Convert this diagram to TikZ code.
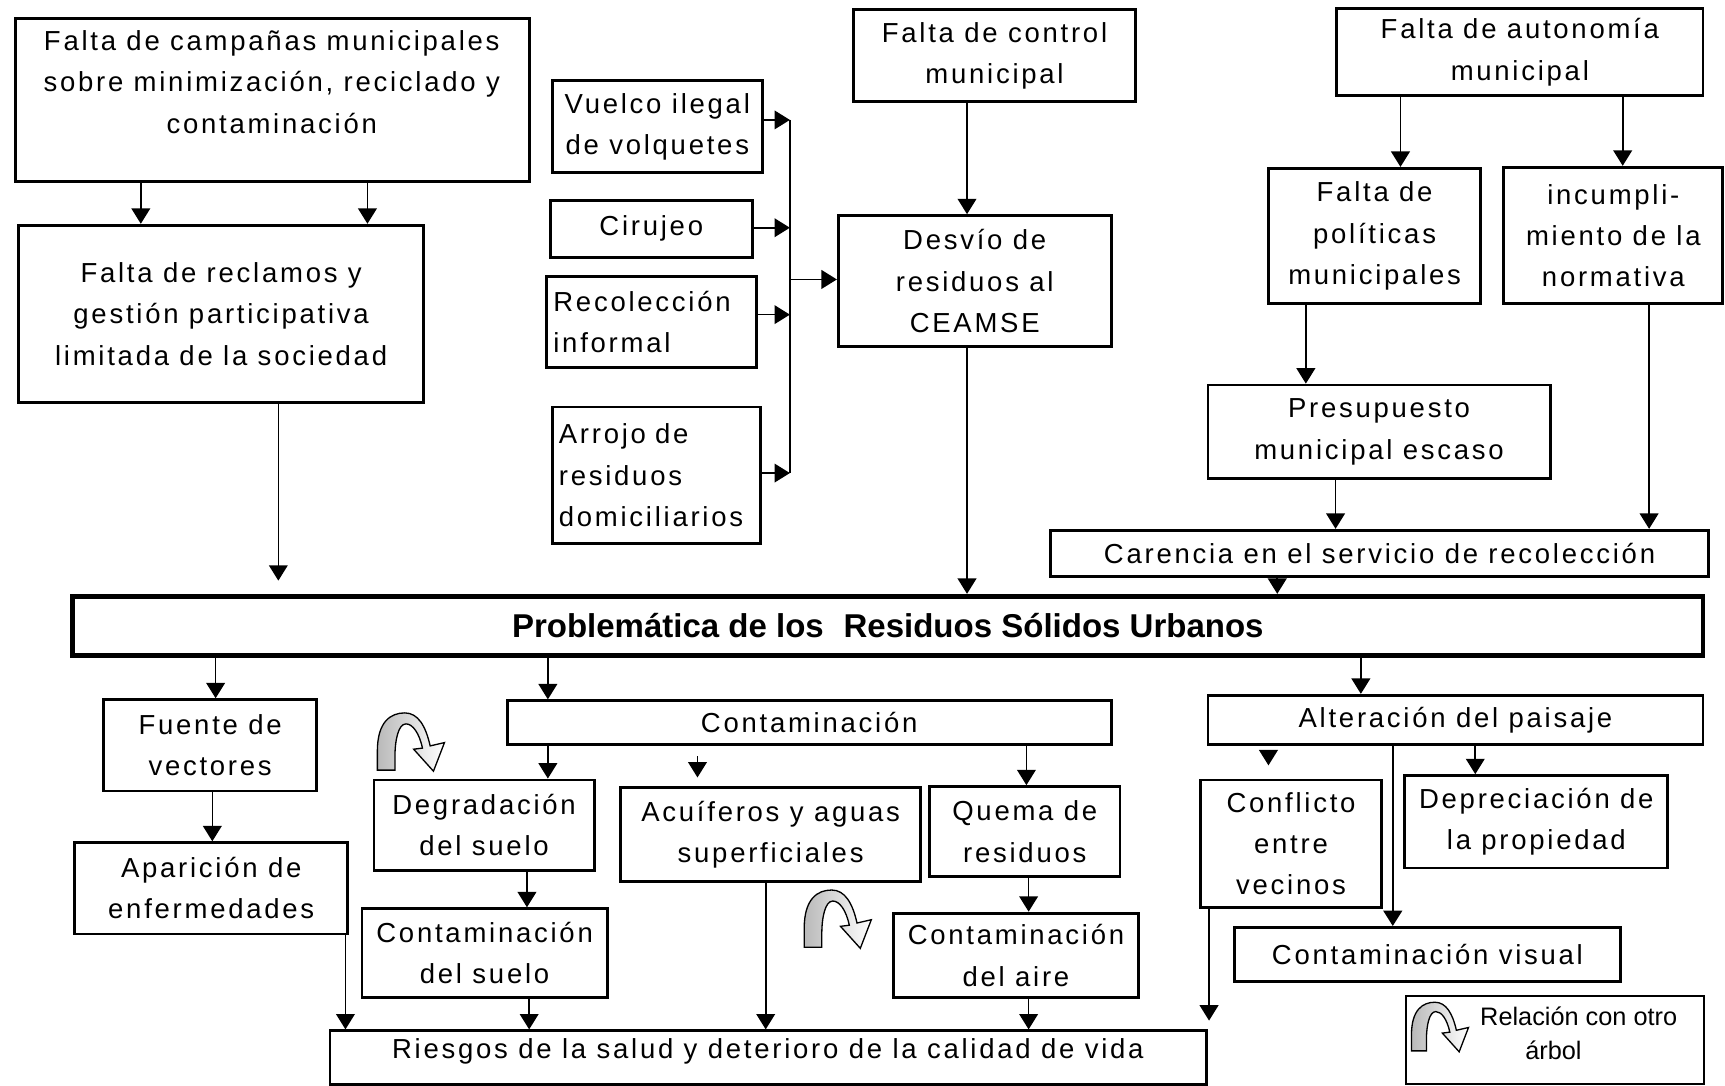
\documentclass[tikz,border=0pt]{standalone}
\usepackage{fontspec}
\setmainfont{Liberation Sans}[LetterSpace=10]
\newfontfamily\legfont{Liberation Sans}
\newfontfamily\titfont{Liberation Sans}
\usetikzlibrary{arrows.meta,calc}
\newcommand\bx[6][]{\node[box,minimum width={(#5-#3)*0.5pt},minimum height={(#6-#4)*0.5pt},#1] (#2) at ({(#3+#5)/2},{(#4+#6)/2})}
\tikzset{
  box/.style={draw, line width=1.3pt, inner sep=1pt, align=center, font=\fontsize{12.5}{18.75}\selectfont},
  txt/.style={inner sep=0pt, align=center, font=\fontsize{12.5}{18.75}\selectfont},
  arr/.style={line width=0.75pt, -{Triangle[length=7pt,width=8.5pt]}},
  ln/.style={line width=0.75pt},
  leftbox/.style={align=left, text width={(#1-12)*0.5pt}, inner xsep=3pt},
  rel/.pic={
    \path[draw=black, line width=0.6pt, left color=gray!55, right color=white]
      (0,52) -- (0,35) .. controls (0,8) and (12,0) .. (25,0)
      .. controls (37,0) and (44,12) .. (48,30) -- (61,27) -- (51,53) -- (33,33) -- (41,32)
      .. controls (38,18) and (32,10) .. (26,10)
      .. controls (19,10) and (16,25) .. (16,40) -- (16,52) -- cycle;
  }
}
\begin{document}
\begin{tikzpicture}[x=0.5pt,y=-0.5pt]
\useasboundingbox (0,0) rectangle (1568,987);
\fill[white] (0,0) rectangle (1568,987);

% top left
\bx{b1}{14}{17}{481}{165}{};
\node[txt] (b1t) at (247,74.5) {Falta de campañas municipales\\sobre minimización, reciclado y\\contaminación};
\bx[line width=1.6pt]{b2}{17}{205}{385}{366}{Falta de reclamos y\\gestión participativa\\limitada de la sociedad};

% middle sources
\bx{vue}{502}{73}{693}{157}{Vuelco ilegal\\de volquetes};
\bx{ciru}{500}{182}{684}{234}{Cirujeo};
\bx[leftbox=191]{reco}{497}{251}{688}{334}{Recolección\\informal};
\bx[leftbox=189]{arro}{502}{370}{691}{494}{Arrojo de\\residuos\\domiciliarios};
\bx{ctrl}{776}{9}{1032}{92}{Falta de control\\municipal};
\bx{desv}{762}{196}{1010}{315}{Desvío de\\residuos al\\CEAMSE};

% right
\bx{auto}{1215}{8}{1548}{87}{Falta de autonomía\\municipal};
\bx{poli}{1153}{153}{1346}{276}{Falta de\\políticas\\municipales};
\bx{incu}{1367}{152}{1566}{276}{incumpli-\\miento de la\\normativa};
\bx{pres}{1098}{350}{1409}{435}{Presupuesto\\municipal escaso};
\bx{care}{955}{482}{1553}{524}{Carencia en el servicio de recolección};

% central problem
\bx[line width=2.2pt, font=\titfont\bfseries\fontsize{15}{18}\selectfont]{rsu}{66}{542}{1548}{596}{Problemática de los\hspace{0.6em}Residuos Sólidos Urbanos};

% effects
\bx{fue}{94}{636}{288}{719}{Fuente de\\vectores};
\bx{apa}{68}{766}{316}{849}{Aparición de\\enfermedades};
\bx{cont}{461}{637}{1010}{677}{Contaminación};
\bx{deg}{340}{709}{540}{791}{Degradación\\del suelo};
\bx{acu}{564}{716}{837}{801}{Acuíferos y aguas\\superficiales};
\bx{que}{845}{715}{1018}{797}{Quema de\\residuos};
\bx{csu}{329}{826}{552}{907}{Contaminación\\del suelo};
\bx{cai}{812}{830}{1035}{907}{Contaminación\\del aire};
\bx{rie}{300}{937}{1097}{986}{};
\node[txt] (riet) at (698,956) {Riesgos de la salud y deterioro de la calidad de vida};
\bx{alt}{1098}{632}{1548}{677}{Alteración del paisaje};
\bx{conf}{1091}{709}{1256}{825}{Conflicto\\entre\\vecinos};
\bx{dep}{1277}{705}{1516}{789}{Depreciación de\\la propiedad};
\bx{cvis}{1122}{843}{1473}{892}{Contaminación visual};

% legend
\bx[line width=0.8pt]{leg}{1278}{905}{1549}{985}{};
\node[inner sep=0pt, align=center, font=\legfont\fontsize{11.5}{15.5}\selectfont] (legt) at (1435,939.5) {Relación con otro\\\hspace*{-23pt}árbol};
\pic[scale=0.85] at (1283,911) {rel};
\pic at (343,648) {rel};
\pic at (731,809) {rel};

% connectors: causes
\draw[arr] (128,0 |- b1.south) -- (128,0 |- b2.north);
\draw[arr] (334,0 |- b1.south) -- (334,0 |- b2.north);
\draw[arr, shorten >=6pt] (253,0 |- b2.south) -- (253,0 |- rsu.north);

\coordinate (bt) at (718,109);
\coordinate (bb) at (718,430);
\draw[ln] (bt) -- (bb);
\draw[arr] (vue.east |- bt) -- (bt);
\draw[arr] (ciru.east |- 0,207) -- (bt |- 0,207);
\draw[arr] (reco.east |- 0,286) -- (bt |- 0,286);
\draw[arr] (arro.east |- bb) -- (bb);
\draw[arr] (bt |- 0,254) -- (desv.west |- 0,254);

\draw[arr] (879,0 |- ctrl.south) -- (879,0 |- desv.north);
\draw[arr] (879,0 |- desv.south) -- (879,0 |- rsu.north);
\draw[arr] (1273,0 |- auto.south) -- (1273,0 |- poli.north);
\draw[arr] (1475,0 |- auto.south) -- (1475,0 |- incu.north);
\draw[arr] (1187,0 |- poli.south) -- (1187,0 |- pres.north);
\draw[arr] (1499,0 |- incu.south) -- (1499,0 |- care.north);
\draw[arr] (1214,0 |- pres.south) -- (1214,0 |- care.north);
\draw[arr] (1161,0 |- care.south) -- (1161,0 |- rsu.north);

% connectors: effects
\draw[arr] (196,0 |- rsu.south) -- (196,0 |- fue.north);
\draw[arr] (498,0 |- rsu.south) -- (498,0 |- cont.north);
\draw[arr] (1237,0 |- rsu.south) -- (1237,0 |- alt.north);
\draw[arr] (193,0 |- fue.south) -- (193,0 |- apa.north);
\draw[arr] (314,0 |- apa.south) -- (314,0 |- rie.north);
\draw[arr] (498,0 |- cont.south) -- (498,0 |- deg.north);
\draw[arr, shorten <=4.5pt, shorten >=4pt] (634,0 |- cont.south) -- (634,0 |- acu.north);
\draw[arr] (933,0 |- cont.south) -- (933,0 |- que.north);
\draw[arr] (479,0 |- deg.south) -- (479,0 |- csu.north);
\draw[arr] (481,0 |- csu.south) -- (481,0 |- rie.north);
\draw[arr] (696,0 |- acu.south) -- (696,0 |- rie.north);
\draw[arr] (935,0 |- que.south) -- (935,0 |- cai.north);
\draw[arr] (935,0 |- cai.south) -- (935,0 |- rie.north);
\draw[arr, shorten <=3.5pt, shorten >=6pt] (1153,0 |- alt.south) -- (1153,0 |- conf.north);
\draw[arr] (1341,0 |- alt.south) -- (1341,0 |- dep.north);
\draw[arr, line width=1.1pt] (1266,0 |- alt.south) -- (1266,0 |- cvis.north);
\draw[arr, shorten >=4pt] (1099,0 |- conf.south) -- (1099,0 |- rie.north);
\end{tikzpicture}
\end{document}
